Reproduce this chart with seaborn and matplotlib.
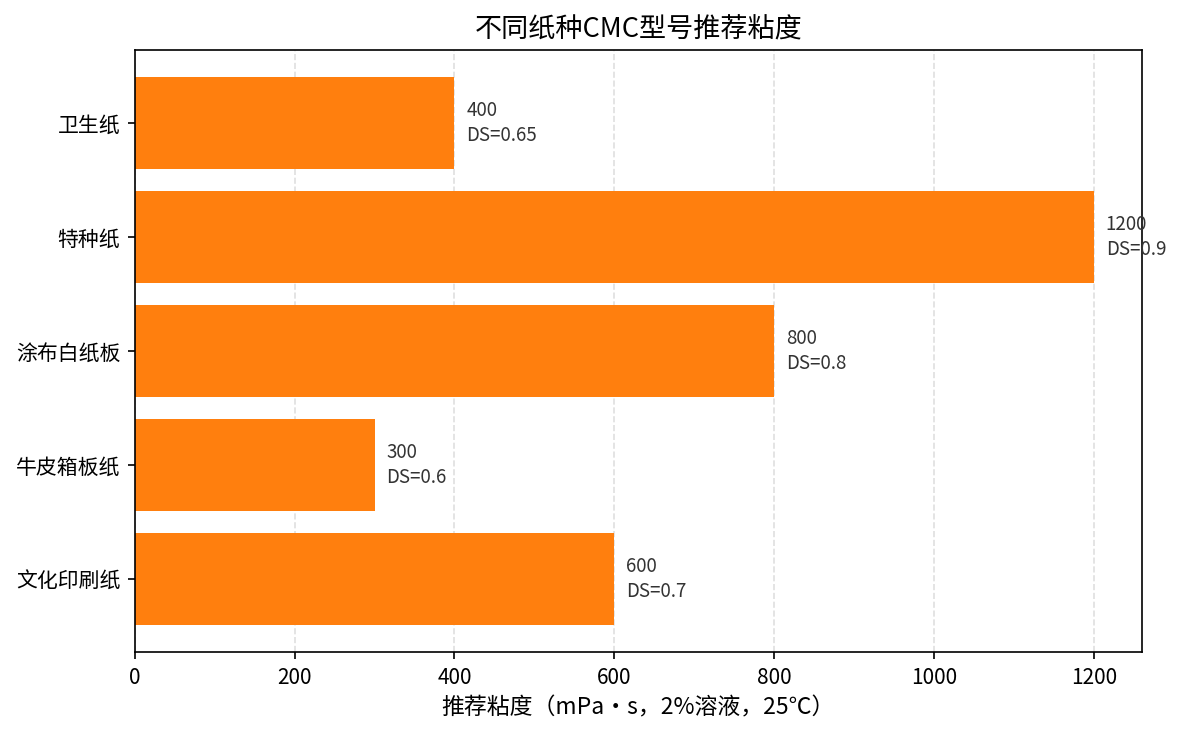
import matplotlib
matplotlib.use("Agg")
import matplotlib.pyplot as plt
import pandas as pd
import seaborn as sns

# 纸种与推荐粘度（自上而下）
paper_types = ["卫生纸", "特种纸", "涂布白纸板", "牛皮箱板纸", "文化印刷纸"]
viscosity = [400, 1200, 800, 300, 600]
ds_values = ["0.65", "0.9", "0.8", "0.6", "0.7"]

data = pd.DataFrame({"paper": paper_types, "visc": viscosity, "ds": ds_values})

sns.set_style("ticks", rc={"axes.edgecolor": "black", "text.color": "black",
                           "xtick.color": "black", "ytick.color": "black",
                           "axes.labelcolor": "black"})
plt.rcParams["font.family"] = ["Noto Sans CJK SC", "DejaVu Sans"]
plt.rcParams["axes.unicode_minus"] = False

fig, ax = plt.subplots(figsize=(7.88, 4.9), dpi=150)
sns.barplot(data=data, x="visc", y="paper", orient="h", color="#ff7f0e",
            saturation=1, width=0.8, linewidth=0, ax=ax)

for i, row in data.iterrows():
    ax.text(row["visc"] + 15, i, f"{row['visc']}\nDS={row['ds']}",
            va="center", ha="left", fontsize=9, color="#333333")

ax.set_xlim(0, 1260)
ax.set_ylim(4.64, -0.64)
ax.grid(axis="x", linestyle="--", color="#b0b0b0", alpha=0.4)
ax.set_axisbelow(True)
ax.set_title("不同纸种CMC型号推荐粘度", fontsize=13)
ax.set_xlabel("推荐粘度（mPa·s，2%溶液，25℃）", fontsize=11)
ax.set_ylabel("")
ax.tick_params(labelsize=10)
for s in ax.spines.values():
    s.set_visible(True)

fig.subplots_adjust(left=0.114, right=0.966, top=0.932, bottom=0.113)
fig.savefig("out.png")
